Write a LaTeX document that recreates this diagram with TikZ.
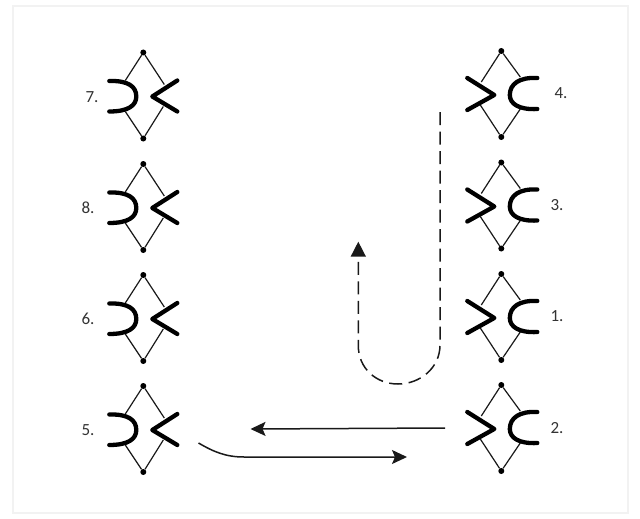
\documentclass[tikz,border=0pt]{standalone}
\usepackage{fontspec}
\setmainfont{Carlito}
\usetikzlibrary{arrows.meta}
\tikzset{
  x=1pt,y=-1pt,
  thin line/.style={draw=black!90,line width=1.2pt},
  bond/.style={draw=black,line width=4.3pt,line cap=round,line join=round},
  dot/.style={circle,fill=black,inner sep=0pt,minimum size=6pt},
  lab/.style={font=\fontsize{17}{19}\selectfont,text=black!80,inner sep=0pt},
  route/.style={draw=black!90,line width=1.5pt},
  frame/.style={draw=black!5,line width=1.2pt},
  tipA/.style={-{Triangle[length=15pt,width=15pt]}},
  tipB/.style={-{Stealth[length=15pt,width=14pt,inset=3pt]}},
}
% left-hand symbol at centre (#1,#2)
\newcommand{\leftsym}[3]{%
  \begin{scope}[shift={(#1,#2)}]
    \node[dot] (#3t) at (0,-43) {};
    \node[dot] (#3b) at (0,43) {};
    \coordinate (#3l) at (-18,-15);
    \coordinate (#3r) at (21,-11);
    \coordinate (#3L) at (-18,16);
    \coordinate (#3R) at (20,11);
    \draw[thin line] (#3l) -- (#3t) -- (#3r);
    \draw[thin line] (#3L) -- (#3b) -- (#3R);
    \draw[bond] (-34,-14.5) .. controls (-15,-15) and (-7,-9) .. (-7,1) .. controls (-7,10) and (-15,16) .. (-34,16);
    \draw[bond] (34,-15) -- (9,1) -- (34,16);
  \end{scope}}
% right-hand symbol at centre (#1,#2)
\newcommand{\rightsym}[3]{%
  \begin{scope}[shift={(#1,#2)}]
    \node[dot] (#3t) at (0,-43) {};
    \node[dot] (#3b) at (0,43) {};
    \coordinate (#3l) at (-20,-12);
    \coordinate (#3r) at (19,-17);
    \coordinate (#3L) at (-21,11);
    \coordinate (#3R) at (19,15);
    \draw[thin line] (#3l) -- (#3t) -- (#3r);
    \draw[thin line] (#3L) -- (#3b) -- (#3R);
    \draw[bond] (-34,-16) -- (-7,1) -- (-34,16);
    \draw[bond] (36,-16) .. controls (18,-17) and (8.5,-10) .. (8.5,1) .. controls (8.5,10) and (18,16) .. (36,15);
  \end{scope}}
\begin{document}
\begin{tikzpicture}
\useasboundingbox (0,0) rectangle (640,519);
\fill[white] (0,0) rectangle (640,519);
\draw[frame] (13,6) -- (628,6) -- (628,513) -- (13,513) -- cycle;
\leftsym{143.3}{95.5}{a}
\leftsym{143.3}{207}{b}
\leftsym{143.3}{318}{c}
\leftsym{143.3}{429}{d}
\rightsym{501.3}{94}{e}
\rightsym{501.3}{205.5}{f}
\rightsym{501.3}{317}{g}
\rightsym{501.3}{428}{h}
\node[lab] (n7) at (92,97) {7.};
\node[lab] (n8) at (88,208) {8.};
\node[lab] (n6) at (88,319) {6.};
\node[lab] (n5) at (88,430) {5.};
\node[lab] (n4) at (561,93) {4.};
\node[lab] (n3) at (557,205) {3.};
\node[lab] (n1) at (557,316) {1.};
\node[lab] (n2) at (557,428) {2.};
\coordinate (us) at (440,112);
\coordinate (ue) at (358.3,241.7);
\coordinate (as) at (445,428);
\coordinate (ae) at (250.5,429);
\coordinate (bs) at (198.5,443);
\coordinate (be) at (407,457);
\draw[route,dash pattern=on 13pt off 6.5pt,tipA] (us) -- (440,345) .. controls (440,368) and (420,384) .. (398,384) .. controls (376,384) and (358,368) .. (358.3,345) -- (ue);
\draw[route,tipB] (as) -- (ae);
\draw[route,tipB] (bs) .. controls (214,452) and (226,457) .. (244,457) -- (be);
\end{tikzpicture}
\end{document}
